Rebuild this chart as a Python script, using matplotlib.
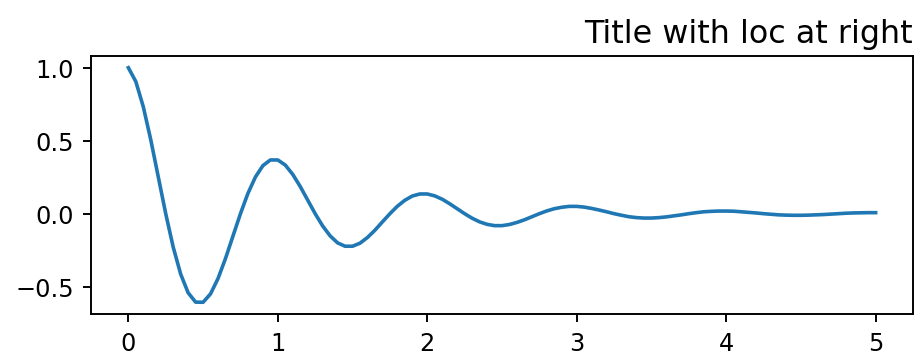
import matplotlib
matplotlib.use("Agg")
import matplotlib.pyplot as plt

t = [i * 0.05 for i in range(101)]
values = [
    1.000, 0.905, 0.732, 0.506, 0.253, 0.000, -0.229, -0.414, -0.542, -0.606,
    -0.607, -0.549, -0.444, -0.307, -0.153, 0.000, 0.139, 0.251, 0.329, 0.368,
    0.368, 0.333, 0.269, 0.186, 0.093, 0.000, -0.084, -0.152, -0.200, -0.223,
    -0.223, -0.202, -0.163, -0.113, -0.056, 0.000, 0.051, 0.092, 0.121, 0.135,
    0.135, 0.122, 0.099, 0.068, 0.034, 0.000, -0.031, -0.056, -0.073, -0.082,
    -0.082, -0.074, -0.060, -0.042, -0.021, 0.000, 0.019, 0.034, 0.044, 0.050,
    0.050, 0.045, 0.036, 0.025, 0.013, 0.000, -0.011, -0.021, -0.027, -0.030,
    -0.030, -0.027, -0.022, -0.015, -0.008, 0.000, 0.007, 0.013, 0.016, 0.018,
    0.018, 0.017, 0.013, 0.009, 0.005, 0.000, -0.004, -0.008, -0.010, -0.011,
    -0.011, -0.010, -0.008, -0.006, -0.003, 0.000, 0.003, 0.005, 0.006, 0.007,
    0.007,
]
title = "Title with loc at right"

DPI = 173
fig = plt.figure(figsize=(917 / DPI, 355 / DPI), dpi=DPI)
ax = fig.add_axes([91 / 917, 1 - 315 / 355, (913 - 91) / 917, (315 - 57) / 355])
ax.plot(t, values, color="#1f77b4", linewidth=1.5)
ax.set_xticks([0, 1, 2, 3, 4, 5])
ax.set_yticks([-0.5, 0.0, 0.5, 1.0])
ax.set_title(title, loc="right", fontsize=13.2)
fig.savefig("out.png", dpi=DPI)
